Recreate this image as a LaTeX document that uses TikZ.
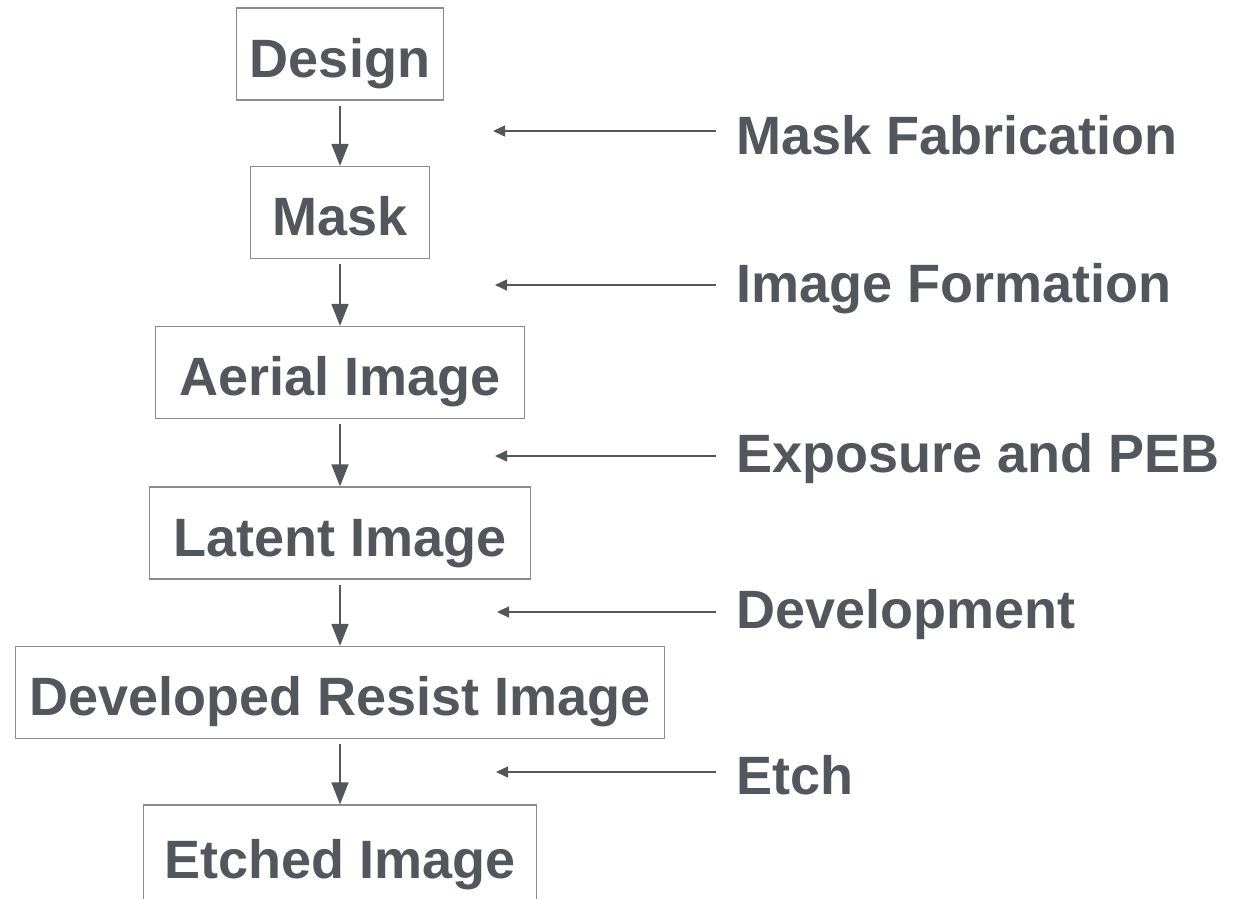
\documentclass[tikz,border=0pt]{standalone}
\usepackage{fontspec}
\setmainfont{Liberation Sans}
\usetikzlibrary{arrows.meta}

\definecolor{inkgray}{HTML}{52565D}
\definecolor{framegray}{HTML}{8A8C90}

\begin{document}
\begin{tikzpicture}[x=1pt, y=-1pt, line width=1.4pt,
    stage/.style={draw=framegray, line width=1.2pt, fill=white, text=inkgray,
      font=\fontsize{54}{64}\selectfont\bfseries, minimum height=92pt, inner sep=0pt,
      text height=54pt, text depth=8pt},
    process/.style={text=inkgray, anchor=west,
      font=\fontsize{54}{64}\selectfont\bfseries, inner sep=0pt},
    flow/.style={draw=inkgray, -{Triangle[length=22pt, width=17pt]}},
    step in/.style={draw=inkgray, -{Triangle[length=12pt, width=11pt]}}]
        \clip (0, 0) rectangle (1245, 898);
        \useasboundingbox (0, 0) rectangle (1245, 898);

        % stages of the litho flow
        \node[stage, minimum width=207pt] (design) at (340, 54) {Design};
        \node[stage, minimum width=179pt] (mask) at (340, 212.5) {Mask};
        \node[stage, minimum width=369pt] (aerial) at (340, 372.5) {Aerial Image};
        \node[stage, minimum width=381pt] (latent) at (340, 533) {Latent Image};
        \node[stage, minimum width=649pt] (developed) at (340, 692.5) {Developed Resist Image};
        \node[stage, minimum width=393pt, minimum height=100pt] (etched) at (340, 855) {Etched Image};

        % arrows between stages
        \draw[flow] ([yshift=-5pt]design.south) -- (mask.north);
        \draw[flow] ([yshift=-5pt]mask.south) -- (aerial.north);
        \draw[flow] ([yshift=-5pt]aerial.south) -- (latent.north);
        \draw[flow] ([yshift=-5pt]latent.south) -- (developed.north);
        \draw[flow] ([yshift=-5pt]developed.south) -- (etched.north);

        % process steps on the right
        \node[process] (maskfab) at (736, 135) {Mask Fabrication};
        \node[process] (imgform) at (736, 289) {Image Formation};
        \node[process] (exposure) at (736, 459) {Exposure and PEB};
        \node[process] (develop) at (736, 615) {Development};
        \node[process] (etch) at (736, 775) {Etch};

        \coordinate (tip1) at (493, 131);
        \coordinate (tip2) at (495, 285);
        \coordinate (tip3) at (495, 456);
        \coordinate (tip4) at (497, 612);
        \coordinate (tip5) at (496, 772);

        \draw[step in] ([xshift=-20pt]maskfab.west |- tip1) -- (tip1);
        \draw[step in] ([xshift=-20pt]imgform.west |- tip2) -- (tip2);
        \draw[step in] ([xshift=-20pt]exposure.west |- tip3) -- (tip3);
        \draw[step in] ([xshift=-20pt]develop.west |- tip4) -- (tip4);
        \draw[step in] ([xshift=-20pt]etch.west |- tip5) -- (tip5);
\end{tikzpicture}
\end{document}
